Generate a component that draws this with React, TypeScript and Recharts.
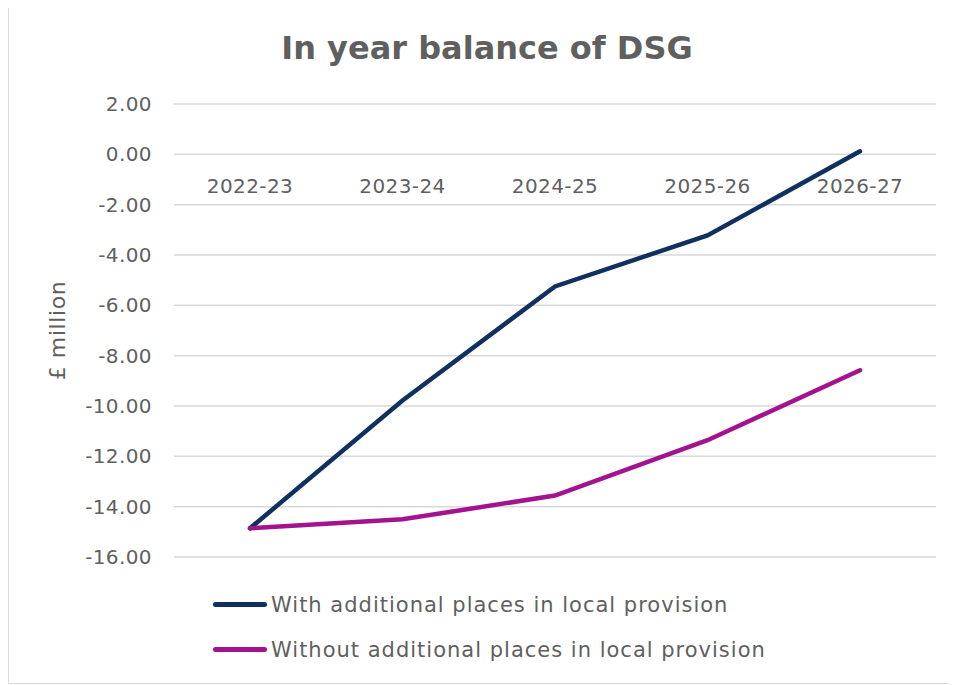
import React from 'react';
import { LineChart, Line, XAxis, YAxis, CartesianGrid, Legend, LabelList } from 'recharts';

const years = ['2022-23', '2023-24', '2024-25', '2025-26', '2026-27'];
const withPlaces = [-14.86, -9.78, -5.25, -3.22, 0.12];
const withoutPlaces = [-14.86, -14.5, -13.56, -11.36, -8.58];
const yTicks = [2, 0, -2, -4, -6, -8, -10, -12, -14, -16];

const NAVY = '#10305f';
const MAGENTA = '#a3138f';
const TEXT = '#5f5f5f';
const FONT = "'DejaVu Sans', sans-serif";

const data = years.map((year, i) => ({
	year,
	withPlaces: withPlaces[i],
	withoutPlaces: withoutPlaces[i],
	axisRow: 0,
}));

const legendItems = [
	{ key: 'withPlaces', label: 'With additional places in local provision', color: NAVY },
	{ key: 'withoutPlaces', label: 'Without additional places in local provision', color: MAGENTA },
];

const LegendContent = () => (
	<div style={{ paddingLeft: 204 }}>
		{legendItems.map((item) => (
			<div key={item.key} style={{ display: 'flex', alignItems: 'center', height: 45 }}>
				<div style={{ width: 54, height: 5, borderRadius: 3, background: item.color, marginRight: 4 }} />
				<span style={{ fontFamily: FONT, fontSize: 21, color: TEXT, letterSpacing: 1 }}>{item.label}</span>
			</div>
		))}
	</div>
);

export default function App() {
	return (
		<div
			style={{
				position: 'relative',
				width: 952,
				height: 677,
				marginTop: -3,
				border: '1px solid #d9d9d9',
				background: '#ffffff',
			}}
		>
			<div
				style={{
					position: 'absolute',
					top: 23,
					left: 0,
					width: 946,
					paddingLeft: 10,
					boxSizing: 'border-box',
					textAlign: 'center',
					fontFamily: FONT,
					fontWeight: 'bold',
					fontSize: 32,
					color: TEXT,
				}}
			>
				In year balance of DSG
			</div>
			<LineChart
				width={946}
				height={676}
				data={data}
				margin={{ top: 98, right: 19, left: 0, bottom: 35 }}
			>
				<CartesianGrid vertical={false} stroke='#d9d9d9' strokeWidth={1.5} />
				<XAxis dataKey='year' hide padding={{ left: 76, right: 76 }} />
				<YAxis
					width={165}
					domain={[-16, 2]}
					ticks={yTicks}
					interval={0}
					axisLine={false}
					tickLine={false}
					tickSize={0}
					tickMargin={22}
					tickFormatter={(v: number) => v.toFixed(2)}
					tick={{ fontFamily: FONT, fontSize: 20, fill: TEXT, letterSpacing: 0.4 }}
					label={{
						value: '£ million',
						angle: -90,
						position: 'insideLeft',
						offset: 48,
						style: { fontFamily: FONT, fontSize: 22, fill: TEXT, textAnchor: 'middle', letterSpacing: 0.6 },
					}}
				/>
				<Line
					dataKey='axisRow'
					stroke='none'
					dot={false}
					activeDot={false}
					legendType='none'
					isAnimationActive={false}
				>
					<LabelList
						dataKey='year'
						position='bottom'
						offset={24}
						style={{ fontFamily: FONT, fontSize: 20, fill: TEXT, letterSpacing: 0.4 }}
					/>
				</Line>
				<Line
					dataKey='withPlaces'
					stroke={NAVY}
					strokeWidth={4.5}
					strokeLinecap='round'
					dot={false}
					isAnimationActive={false}
				/>
				<Line
					dataKey='withoutPlaces'
					stroke={MAGENTA}
					strokeWidth={4.5}
					strokeLinecap='round'
					dot={false}
					isAnimationActive={false}
				/>
				<Legend verticalAlign='bottom' align='left' content={<LegendContent />} wrapperStyle={{ bottom: 10 }} />
			</LineChart>
		</div>
	);
}
